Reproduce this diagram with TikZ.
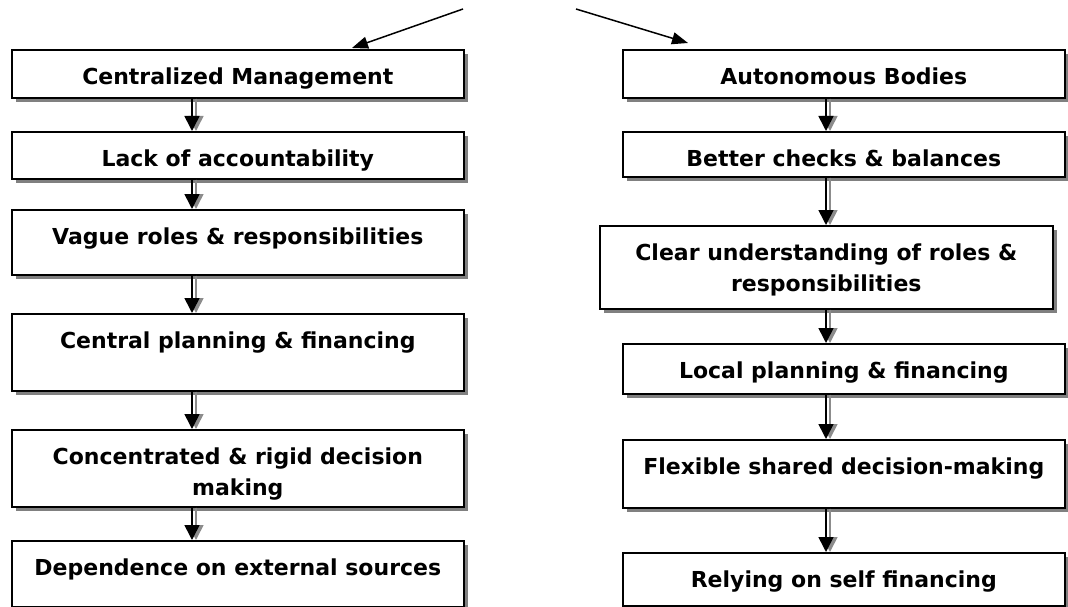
\documentclass[tikz,border=0pt]{standalone}
\usepackage{fontspec}
\setmainfont{DejaVu Sans}
\usetikzlibrary{arrows.meta,shadows,calc}
\tikzset{
  box/.style={draw=black, line width=1.6pt, fill=white, rectangle, inner sep=0pt,
    drop shadow={shadow xshift=4pt, shadow yshift=-4pt, fill=black!50, opacity=1}},
  lbl/.style={font=\fontsize{22}{31}\selectfont\bfseries, align=center, inner sep=0pt, anchor=north},
  flow/.style={line width=1.6pt, -{Triangle[length=15pt,width=15pt]}},
  flowsh/.style={flow, draw=black!45, fill=black!45},
  toparrow/.style={line width=1.5pt, -{Triangle[length=16pt,width=12pt]}}
}
\newcommand\mkbox[6]{%
  \node[box, minimum width=#4pt-#2pt, minimum height=#5pt-#3pt, anchor=north west] (#1) at (#2,#3) {};
  \node[lbl] (#1t) at ($(#1.north)+(0,19)$) {#6};
}
\begin{document}
\begin{tikzpicture}[x=1pt,y=-1pt]
\useasboundingbox (0,0) rectangle (1068,607);
% left column
\mkbox{L1}{11}{49}{463}{97}{Centralized Management}
\mkbox{L2}{11}{131}{463}{178}{Lack of accountability}
\mkbox{L3}{11}{209}{463}{274}{Vague roles \& responsibilities}
\mkbox{L4}{11}{313}{463}{390}{Central planning \& financing}
\mkbox{L5}{11}{429}{463}{506}{Concentrated \& rigid decision\\making}
\mkbox{L6}{11}{540}{463}{606}{Dependence on external sources}
% right column
\mkbox{R1}{622}{49}{1064}{97}{Autonomous Bodies}
\mkbox{R2}{622}{131}{1064}{176}{Better checks \& balances}
\mkbox{R3}{599}{225}{1052}{308}{Clear understanding of roles \&\\responsibilities}
\mkbox{R4}{622}{343}{1064}{393}{Local planning \& financing}
\mkbox{R5}{622}{439}{1064}{507}{Flexible shared decision-making}
\mkbox{R6}{622}{552}{1064}{605}{Relying on self financing}
% arrow axes
\coordinate (ax) at (192,0);
\coordinate (axs) at (196,0);
\coordinate (bx) at (826,0);
\coordinate (bxs) at (830,0);
\foreach \a/\b in {L1/L2,L2/L3,L3/L4,L4/L5,L5/L6}{
  \draw[flowsh] (axs |- \a.south) -- (axs |- \b.north);
  \draw[flow] (ax |- \a.south) -- (ax |- \b.north);
}
\foreach \a/\b in {R1/R2,R2/R3,R3/R4,R4/R5,R5/R6}{
  \draw[flowsh] (bxs |- \a.south) -- (bxs |- \b.north);
  \draw[flow] (bx |- \a.south) -- (bx |- \b.north);
}
% top arrows
\coordinate (ls) at (463,9);
\coordinate (lt) at (352,48);
\coordinate (rs) at (576,9);
\coordinate (rt) at (688,43);
\draw[toparrow] (ls) -- (lt);
\draw[toparrow] (rs) -- (rt);
\end{tikzpicture}
\end{document}
